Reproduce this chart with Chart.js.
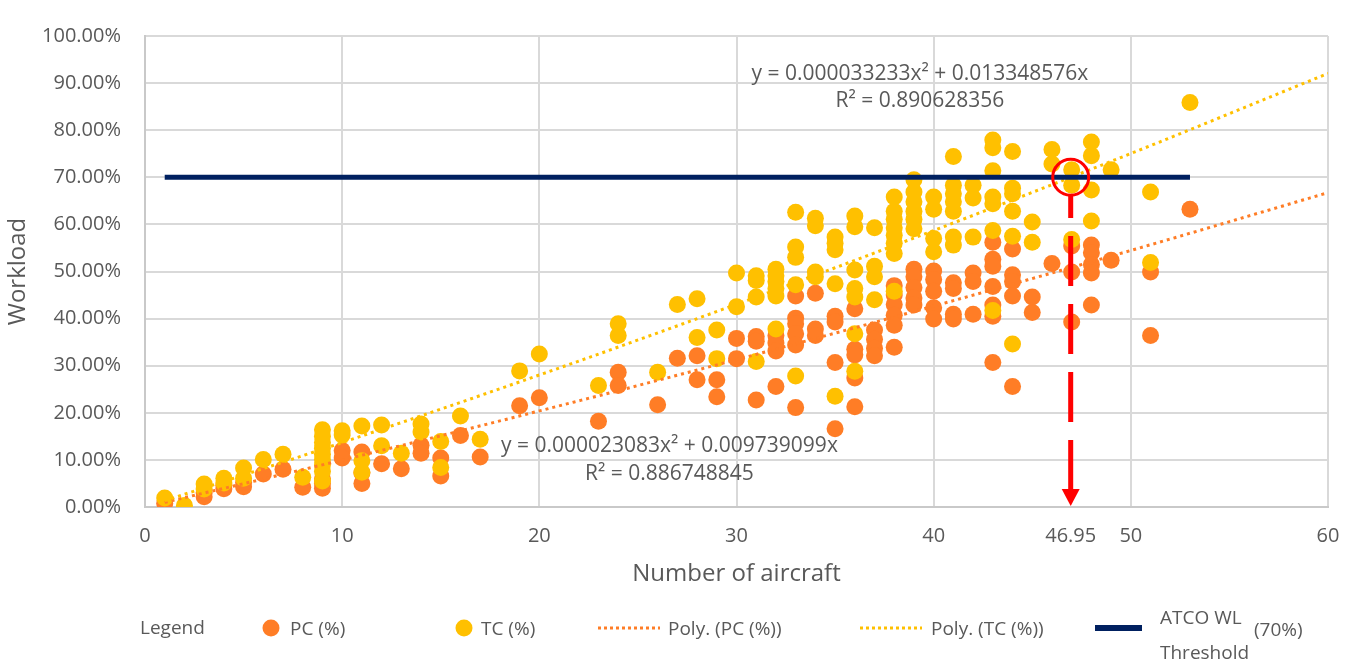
<!DOCTYPE html>
<html>
<head>
<meta charset="utf-8">
<script src="https://cdn.jsdelivr.net/npm/chart.js@4.4.1/dist/chart.umd.min.js"></script>
<style>
  html, body { margin: 0; padding: 0; background: #fff; }
  #wrap { position: relative; width: 1357px; height: 663px; }
  #legend { position: absolute; left: 0; top: 0; width: 1357px; height: 663px; pointer-events: none;
            font-family: 'Open Sans', sans-serif; color: #595959; font-size: 19px; }
  #legend span { position: absolute; white-space: nowrap; line-height: 1; transform: translateY(-50%); }
  #legend .dot { position: absolute; width: 17px; height: 17px; border-radius: 50%; transform: translate(-50%, -50%); }
  #legend .dash { position: absolute; height: 3px; transform: translateY(-50%); }
</style>
</head>
<body>
<div id="wrap">
  <canvas id="ch_workload"></canvas>
  <div id="legend">
    <span style="left:140px;top:627px">Legend</span>
    <div class="dot" style="left:271px;top:628px;background:#ff7d26"></div>
    <span style="left:290px;top:628px">PC (%)</span>
    <div class="dot" style="left:464px;top:628px;background:#ffc000"></div>
    <span style="left:481px;top:628px">TC (%)</span>
    <div class="dash" style="left:598px;top:628px;width:62px;background:repeating-linear-gradient(90deg,#ff7d26 0 3px,transparent 3px 6px)"></div>
    <span style="left:668px;top:628px">Poly. (PC (%))</span>
    <div class="dash" style="left:860px;top:628px;width:62px;background:repeating-linear-gradient(90deg,#ffc000 0 3px,transparent 3px 6px)"></div>
    <span style="left:931px;top:628px">Poly. (TC (%))</span>
    <div class="dash" style="left:1095px;top:628px;width:47px;height:6px;background:#002060"></div>
    <span style="left:1160px;top:617px">ATCO WL</span>
    <span style="left:1254px;top:629px">(70%)</span>
    <span style="left:1160px;top:652px">Threshold</span>
  </div>
</div>
<script>
/* ── data ────────────────────────────────────────────────────────── */
const pcPoints = [
  [1,0.8],[3,2.2],[3,3.0],[4,3.9],[4,4.6],[5,4.3],[5,5.2],[6,7.0],[7,8.0],[8,4.2],
  [9,4.0],[9,5.0],[9,6.0],[10,12.0],[10,10.4],[11,11.7],[11,7.2],[11,5.0],[12,9.2],[13,8.1],
  [14,13.1],[14,11.4],[15,10.4],[15,6.6],[16,15.2],[17,10.6],[19,21.5],[20,23.2],[23,18.2],
  [24,28.6],[24,25.8],[26,21.7],[27,31.6],[28,32.1],[28,27.0],[29,27.0],[29,23.4],
  [30,35.8],[30,31.5],[31,36.2],[31,35.2],[31,22.7],[32,36.4],[32,34.8],[32,33.1],[32,25.6],
  [33,44.8],[33,40.1],[33,38.9],[33,36.8],[33,34.4],[33,21.1],[34,45.4],[34,37.8],[34,36.4],
  [35,40.5],[35,39.3],[35,30.7],[35,16.6],[36,42.1],[36,33.5],[36,32.3],[36,27.4],[36,21.3],
  [37,37.6],[37,35.6],[37,33.7],[37,32.1],[38,47.0],[38,45.0],[38,43.0],[38,40.7],[38,38.6],[38,33.9],
  [39,50.5],[39,48.9],[39,46.6],[39,44.4],[39,42.9],[40,50.1],[40,48.3],[40,45.8],[40,42.3],[40,39.9],
  [41,47.6],[41,46.4],[41,40.9],[41,39.9],[42,49.7],[42,47.9],[42,40.9],
  [43,56.2],[43,52.6],[43,51.1],[43,46.8],[43,42.9],[43,40.5],[43,30.7],
  [44,54.8],[44,49.3],[44,47.9],[44,44.8],[44,25.6],[45,44.6],[45,41.3],[46,51.7],
  [47,55.4],[47,49.9],[47,39.3],[48,55.6],[48,54.0],[48,51.5],[48,49.7],[48,42.9],
  [49,52.4],[51,49.9],[51,36.4],[53,63.2]
];

const tcPoints = [
  [1,1.9],[2,0.3],[3,4.9],[3,3.8],[4,6.1],[4,5.1],[5,8.3],[5,6.1],[6,10.1],[7,11.2],[8,6.3],
  [9,16.4],[9,15.0],[9,13.7],[9,12.5],[9,11.2],[9,10.1],[9,8.9],[9,7.6],[9,5.5],
  [10,16.2],[10,15.3],[11,17.2],[11,9.8],[11,7.4],[12,17.4],[12,13.0],[13,11.4],
  [14,17.6],[14,15.9],[15,13.9],[15,8.4],[16,19.3],[17,14.4],[19,28.9],[20,32.5],[23,25.8],
  [24,38.9],[24,36.4],[26,28.6],[27,43.0],[28,44.2],[28,36.0],[29,37.6],[29,31.5],
  [30,49.7],[30,42.5],[31,49.1],[31,48.1],[31,44.6],[31,30.9],
  [32,50.5],[32,49.1],[32,47.9],[32,46.4],[32,44.8],[32,37.8],
  [33,62.6],[33,55.2],[33,53.0],[33,47.2],[33,27.8],[34,61.3],[34,59.7],[34,49.9],[34,48.9],
  [35,57.3],[35,56.0],[35,54.6],[35,47.4],[35,23.5],
  [36,61.8],[36,59.5],[36,50.3],[36,46.4],[36,44.6],[36,36.8],[36,28.8],
  [37,59.3],[37,51.1],[37,48.9],[37,44.0],
  [38,65.8],[38,62.8],[38,61.1],[38,59.3],[38,57.7],[38,56.0],[38,53.8],[38,45.8],
  [39,69.5],[39,66.9],[39,64.8],[39,62.8],[39,61.1],[39,59.1],
  [40,65.8],[40,63.2],[40,57.0],[40,54.2],
  [41,74.4],[41,68.3],[41,66.5],[41,64.8],[41,62.8],[41,57.3],[41,55.6],
  [42,68.3],[42,65.6],[42,57.3],
  [43,77.9],[43,76.3],[43,71.4],[43,65.8],[43,64.4],[43,58.7],[43,41.7],
  [44,75.5],[44,67.7],[44,66.5],[44,62.8],[44,57.5],[44,34.6],
  [45,60.5],[45,56.2],[46,75.9],[46,72.8],[47,71.6],[47,68.3],[47,56.8],
  [48,77.5],[48,74.6],[48,67.3],[48,60.7],[49,71.6],[51,66.9],[51,51.9],[53,85.9]
];

// polynomial trendlines, values tabulated at a few x positions
const trendX   = [1, 10, 20, 30, 40, 50, 60];
const trendPC  = [0.98, 9.97, 20.40, 31.29, 42.65, 54.47, 66.74];
const trendTC  = [1.34, 13.68, 28.03, 43.04, 58.71, 75.05, 92.06];

// ATCO workload threshold line
const thresholdX = [1, 53];
const thresholdY = 70;
const crossX = 46.95;   // where the TC trend meets the threshold

const xTicks = [0, 10, 20, 30, 40, 50, 60];
const yTicks = [0, 10, 20, 30, 40, 50, 60, 70, 80, 90, 100];

const eqTC = ['y = 0.000033233x² + 0.013348576x', 'R² = 0.890628356'];
const eqPC = ['y = 0.000023083x² + 0.009739099x', 'R² = 0.886748845'];

/* ── colours ─────────────────────────────────────────────────────── */
const ORANGE = '#ff7d26', YELLOW = '#ffc000', NAVY = '#002060', RED = '#ff0000';
const TEXT = '#595959', GRID = '#d9d9d9';
const FONT = "'Open Sans', sans-serif";

const toXY = arr => arr.map(([x, y]) => ({ x, y }));

/* ── annotations: equations, circle, dashed arrow ────────────────── */
const notes = {
  id: 'notes',
  afterDatasetsDraw(chart) {
    const { ctx, scales: { x, y } } = chart;
    ctx.save();
    ctx.fillStyle = TEXT;
    ctx.font = '21px ' + FONT;
    ctx.textAlign = 'center';
    ctx.textBaseline = 'middle';
    ctx.fillText(eqTC[0], x.getPixelForValue(39.3), y.getPixelForValue(92.0));
    ctx.fillText(eqTC[1], x.getPixelForValue(39.3), y.getPixelForValue(86.1));
    ctx.fillText(eqPC[0], x.getPixelForValue(26.6), y.getPixelForValue(12.9));
    ctx.fillText(eqPC[1], x.getPixelForValue(26.6), y.getPixelForValue(7.0));

    const cx = x.getPixelForValue(crossX), cy = y.getPixelForValue(thresholdY);
    const yb = y.getPixelForValue(0);
    ctx.strokeStyle = RED;
    ctx.lineWidth = 3;
    ctx.beginPath(); ctx.arc(cx, cy, 18, 0, Math.PI * 2); ctx.stroke();

    ctx.lineWidth = 5;
    ctx.setLineDash([50, 18]);
    ctx.beginPath(); ctx.moveTo(cx, yb - 17); ctx.lineTo(cx, cy + 18); ctx.stroke();
    ctx.setLineDash([]);
    ctx.fillStyle = RED;
    ctx.beginPath();
    ctx.moveTo(cx - 9, yb - 18); ctx.lineTo(cx + 9, yb - 18); ctx.lineTo(cx, yb - 1);
    ctx.closePath(); ctx.fill();
    ctx.restore();
  }
};

new Chart(document.getElementById('ch_workload').getContext('2d'), {
  type: 'scatter',
  data: {
    datasets: [
      { label: 'ATCO WL Threshold (70%)', type: 'line', order: -2,
        data: thresholdX.map(x => ({ x, y: thresholdY })),
        borderColor: NAVY, borderWidth: 5, pointRadius: 0, borderCapStyle: 'butt' },
      { label: 'Poly. (TC (%))', type: 'line', order: -1,
        data: trendX.map((x, i) => ({ x, y: trendTC[i] })),
        borderColor: YELLOW, borderWidth: 3, borderDash: [3, 4], pointRadius: 0,
        cubicInterpolationMode: 'monotone' },
      { label: 'Poly. (PC (%))', type: 'line', order: -1,
        data: trendX.map((x, i) => ({ x, y: trendPC[i] })),
        borderColor: ORANGE, borderWidth: 3, borderDash: [3, 4], pointRadius: 0,
        cubicInterpolationMode: 'monotone' },
      { label: 'TC (%)', order: 0, data: toXY(tcPoints),
        backgroundColor: YELLOW, borderWidth: 0, pointRadius: 8.5 },
      { label: 'PC (%)', order: 1, data: toXY(pcPoints),
        backgroundColor: ORANGE, borderWidth: 0, pointRadius: 8.5 }
    ]
  },
  options: {
    responsive: true,
    maintainAspectRatio: false,
    animation: false,
    layout: { padding: { top: 18, right: 29, bottom: 0, left: 0 } },
    plugins: { legend: { display: false }, tooltip: { enabled: false } },
    scales: {
      x: {
        type: 'linear', min: 0, max: 60,
        afterFit: s => { s.height = 156; },
        afterBuildTicks: s => {
          s.ticks = xTicks.map(v => ({ value: v }));
          s.ticks.push({ value: crossX });
        },
        grid: {
          color: c => (c.tick && c.tick.value === crossX) ? 'rgba(0,0,0,0)' : GRID,
          lineWidth: 2, drawTicks: false
        },
        border: { color: '#c9c9c9', width: 2 },
        ticks: { autoSkip: false, maxRotation: 0, padding: 17, color: TEXT,
                 font: { family: FONT, size: 20 }, callback: v => String(v) },
        title: { display: true, text: 'Number of aircraft', color: TEXT,
                 font: { family: FONT, size: 24 }, padding: { top: 0, bottom: 74 } }
      },
      y: {
        min: 0, max: 100,
        afterFit: s => { s.width = 145; },
        afterBuildTicks: s => { s.ticks = yTicks.map(v => ({ value: v })); },
        grid: { color: GRID, lineWidth: 2, drawTicks: false },
        border: { color: '#c9c9c9', width: 2 },
        ticks: { padding: 24, color: TEXT, font: { family: FONT, size: 20 },
                 callback: v => v.toFixed(2) + '%' },
        title: { display: true, text: 'Workload', color: TEXT,
                 font: { family: FONT, size: 24 }, padding: { top: 4, bottom: 0 } }
      }
    }
  },
  plugins: [notes]
});
</script>
</body>
</html>
